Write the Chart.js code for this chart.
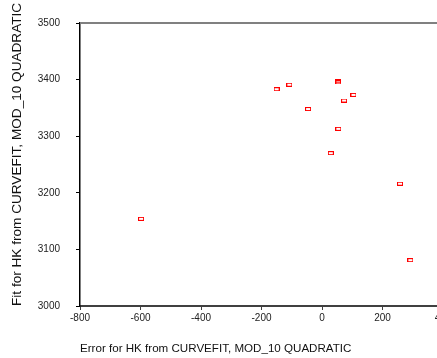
<!DOCTYPE html>
<html>
<head>
<meta charset="utf-8">
<script src="https://cdn.jsdelivr.net/npm/chart.js@4/dist/chart.umd.min.js"></script>
<style>
html,body{margin:0;padding:0;background:#fff;overflow:hidden;}
#wrap{width:437px;height:358px;overflow:hidden;}
canvas{display:block;}
</style>
</head>
<body>
<div id="wrap"><canvas id="c" width="460" height="358"></canvas></div>
<script>
const errorValues = [-598, -150, -108, -46, 29, 53, 54, 54, 73, 104, 258, 292];
const fitValues   = [3154, 3383, 3391, 3348, 3270, 3397, 3395, 3313, 3363, 3373, 3216, 3081];
const xTicks = [-800, -600, -400, -200, 0, 200, 400];
const yTicks = [3000, 3100, 3200, 3300, 3400, 3500];
const xTitle = 'Error for HK from CURVEFIT, MOD_10 QUADRATIC';
const yTitle = 'Fit for HK from CURVEFIT, MOD_10 QUADRATIC';

const marker = document.createElement('canvas');
marker.width = 6; marker.height = 4;
(function(){
  const m = marker.getContext('2d');
  m.strokeStyle = '#ff0000';
  m.lineWidth = 1;
  m.strokeRect(0.5, 0.5, 5, 3);
})();

const points = errorValues.map((x, i) => ({x: x, y: fitValues[i]}));

const topLine = {
  id: 'topLine',
  afterDraw(chart) {
    const {ctx, chartArea} = chart;
    ctx.save();
    ctx.strokeStyle = '#808080';
    ctx.lineWidth = 2;
    ctx.beginPath();
    ctx.moveTo(chartArea.left, chartArea.top);
    ctx.lineTo(chart.width, chartArea.top);
    ctx.stroke();
    ctx.restore();
  }
};

new Chart(document.getElementById('c'), {
  type: 'scatter',
  data: {
    datasets: [{
      data: points,
      pointStyle: marker,
      pointRadius: 3,
      pointHoverRadius: 3
    }]
  },
  options: {
    responsive: false,
    animation: false,
    events: [],
    layout: {padding: {top: 23, right: 17, left: 0, bottom: 0}},
    plugins: {legend: {display: false}, tooltip: {enabled: false}},
    scales: {
      x: {
        type: 'linear',
        min: xTicks[0], max: xTicks[xTicks.length - 1],
        afterBuildTicks(s) { s.ticks = xTicks.map(v => ({value: v})); },
        afterFit(s) { s.height = 52; },
        grid: {display: true, drawOnChartArea: false, drawTicks: true, tickLength: 4, color: '#404040', lineWidth: 1},
        border: {display: true, color: '#404040', width: 2},
        ticks: {color: '#222', font: {family: 'Liberation Sans, Arial', size: 10}, padding: 2, maxRotation: 0, autoSkip: false,
          callback: v => String(v)},
        title: {display: true, text: xTitle, align: 'start', color: '#111',
          font: {family: 'Liberation Sans, Arial', size: 11.6}, padding: {top: 0, bottom: 2}}
      },
      y: {
        type: 'linear',
        min: yTicks[0], max: yTicks[yTicks.length - 1],
        afterBuildTicks(s) { s.ticks = yTicks.map(v => ({value: v})); },
        afterFit(s) { s.width = 80; },
        grid: {display: true, drawOnChartArea: false, drawTicks: true, tickLength: 4, color: '#000', lineWidth: 1},
        border: {display: true, color: '#000', width: 1.5},
        ticks: {color: '#222', font: {family: 'Liberation Sans, Arial', size: 10}, padding: 16, autoSkip: false,
          callback: v => String(v)},
        title: {display: true, text: yTitle, align: 'start', color: '#111',
          font: {family: 'Liberation Sans, Arial', size: 13.6}, padding: {top: 9, bottom: 0}}
      }
    }
  },
  plugins: [topLine]
});
</script>
</body>
</html>
